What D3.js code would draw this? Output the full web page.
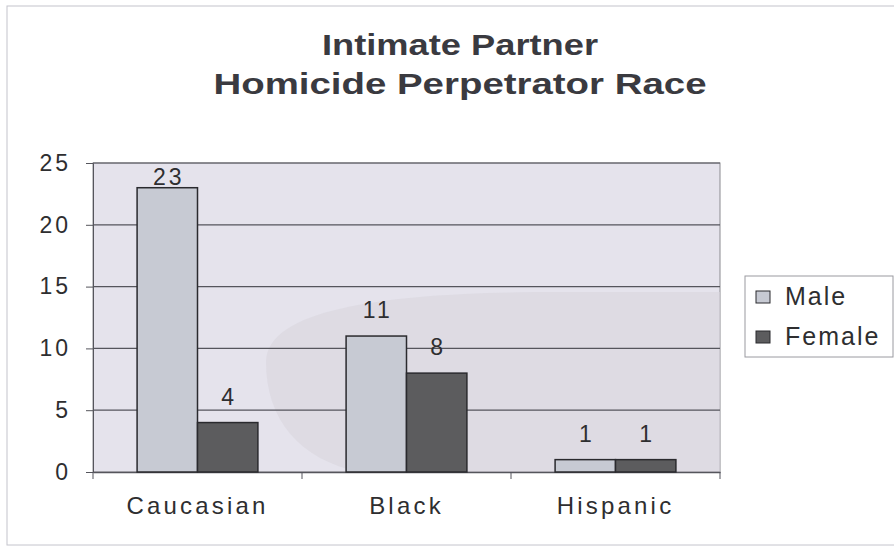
<!DOCTYPE html>
<html lang="en">
<head>
    <meta charset="UTF-8">
    <title>Intimate Partner Homicide Perpetrator Race</title>
    <script src="https://d3js.org/d3.v7.min.js"></script>
    <style>
        body { margin: 0; background: #fff; }
        text { font-family: 'Liberation Sans', Arial, sans-serif; fill: #2e2e30; }
        .title { font-size: 29px; font-weight: bold; fill: #3a3a40; }
        .tick-label { font-size: 23px; letter-spacing: 3px; }
        .cat-label { font-size: 24px; letter-spacing: 3.2px; }
        .value-label { font-size: 23px; letter-spacing: 3px; }
        .legend-text { font-size: 25px; letter-spacing: 2px; }
    </style>
</head>
<body>
<svg id="chart" width="894" height="548"></svg>
<script>
    const categories = ["Caucasian", "Black", "Hispanic"];
    const seriesNames = ["Male", "Female"];
    const maleValues = [23, 11, 1];
    const femaleValues = [4, 8, 1];
    const yTicks = [0, 5, 10, 15, 20, 25];
    const titleLines = ["Intimate Partner", "Homicide Perpetrator Race"];

    const colors = { Male: "#c7cad3", Female: "#5c5c5e" };
    const series = [maleValues, femaleValues];

    const svg = d3.select("#chart");
    const plot = { left: 93, right: 720, top: 163, bottom: 472 };

    // outer chart frame
    svg.append("rect")
        .attr("x", 7).attr("y", 6)
        .attr("width", 900).attr("height", 539)
        .attr("fill", "none")
        .attr("stroke", "#c4c4cc")
        .attr("stroke-width", 1);

    // title (the scanned original is stretched wide)
    const titleWidths = [276, 493];
    svg.selectAll(".title")
        .data(titleLines)
        .join("text")
        .attr("class", "title")
        .attr("x", 460)
        .attr("y", (d, i) => 55 + i * 39)
        .attr("text-anchor", "middle")
        .attr("textLength", (d, i) => titleWidths[i])
        .attr("lengthAdjust", "spacingAndGlyphs")
        .text(d => d);

    const x = d3.scaleBand()
        .domain(categories)
        .range([plot.left, plot.right]);

    const xInner = d3.scaleBand()
        .domain(seriesNames)
        .range([0, x.bandwidth()])
        .paddingInner(0)
        .paddingOuter(0.73);

    const y = d3.scaleLinear()
        .domain([0, 25])
        .range([plot.bottom, plot.top]);

    // plot area background
    svg.append("rect")
        .attr("x", plot.left).attr("y", plot.top)
        .attr("width", plot.right - plot.left)
        .attr("height", plot.bottom - plot.top)
        .attr("fill", "#e5e3ec")
        .attr("stroke", "#8a8a90");

    // faint watermark shape behind bars
    svg.append("path")
        .attr("d", "M266,362 C266,302 420,292 560,292 L720,292 L720,472 L360,472 C300,460 266,420 266,362 Z")
        .attr("fill", "#d8d5de")
        .attr("opacity", 0.6);

    // gridlines
    svg.append("g")
        .selectAll("line")
        .data(yTicks.filter(d => d > 0))
        .join("line")
        .attr("x1", plot.left).attr("x2", plot.right)
        .attr("y1", d => y(d)).attr("y2", d => y(d))
        .attr("stroke", "#55555c")
        .attr("stroke-width", 1.2);

    // y axis
    const yAxis = svg.append("g")
        .attr("transform", `translate(${plot.left},0)`)
        .call(d3.axisLeft(y).tickValues(yTicks).tickSize(7).tickPadding(15));
    yAxis.select(".domain").attr("stroke", "#55555c");
    yAxis.selectAll(".tick line").attr("stroke", "#55555c");
    yAxis.selectAll(".tick text").attr("class", "tick-label")
        .attr("font-family", null).attr("font-size", null).attr("fill", "#2e2e30");

    // x axis
    const xAxis = svg.append("g")
        .attr("transform", `translate(0,${plot.bottom})`)
        .call(d3.axisBottom(x).tickSize(0).tickPadding(25));
    xAxis.select(".domain").attr("stroke", "#55555c").attr("stroke-width", 1.5);
    xAxis.selectAll(".tick text").attr("class", "cat-label")
        .attr("font-family", null).attr("font-size", null).attr("fill", "#2e2e30");

    // category separator ticks
    svg.append("g")
        .selectAll("line")
        .data(d3.range(categories.length + 1))
        .join("line")
        .attr("x1", i => plot.left + i * x.step())
        .attr("x2", i => plot.left + i * x.step())
        .attr("y1", plot.bottom).attr("y2", plot.bottom + 7)
        .attr("stroke", "#55555c");

    // bars
    const groups = svg.append("g")
        .selectAll("g")
        .data(categories)
        .join("g")
        .attr("transform", d => `translate(${x(d)},0)`);

    groups.selectAll("rect")
        .data((c, i) => seriesNames.map((s, j) => ({ s, v: series[j][i] })))
        .join("rect")
        .attr("x", d => xInner(d.s))
        .attr("y", d => y(d.v))
        .attr("width", xInner.bandwidth())
        .attr("height", d => y(0) - y(d.v))
        .attr("fill", d => colors[d.s])
        .attr("stroke", "#2a2a2e")
        .attr("stroke-width", 1.5);

    groups.selectAll("text")
        .data((c, i) => seriesNames.map((s, j) => ({ s, v: series[j][i] })))
        .join("text")
        .attr("class", "value-label")
        .attr("x", d => xInner(d.s) + xInner.bandwidth() / 2 + 1.5)
        .attr("y", d => y(d.v) - (d.v > 20 ? 3 : 18))
        .attr("text-anchor", "middle")
        .text(d => d.v);

    // legend
    const legend = svg.append("g");
    legend.append("rect")
        .attr("x", 745).attr("y", 276)
        .attr("width", 148).attr("height", 81)
        .attr("fill", "#fff")
        .attr("stroke", "#9a9aa0");

    const items = legend.selectAll("g")
        .data(seriesNames)
        .join("g")
        .attr("transform", (d, i) => `translate(756,${297 + i * 40})`);
    items.append("rect")
        .attr("x", 0).attr("y", -6)
        .attr("width", 14).attr("height", 12)
        .attr("fill", d => colors[d])
        .attr("stroke", "#2a2a2e");
    items.append("text")
        .attr("class", "legend-text")
        .attr("x", 29).attr("y", 8)
        .text(d => d);
</script>
</body>
</html>
